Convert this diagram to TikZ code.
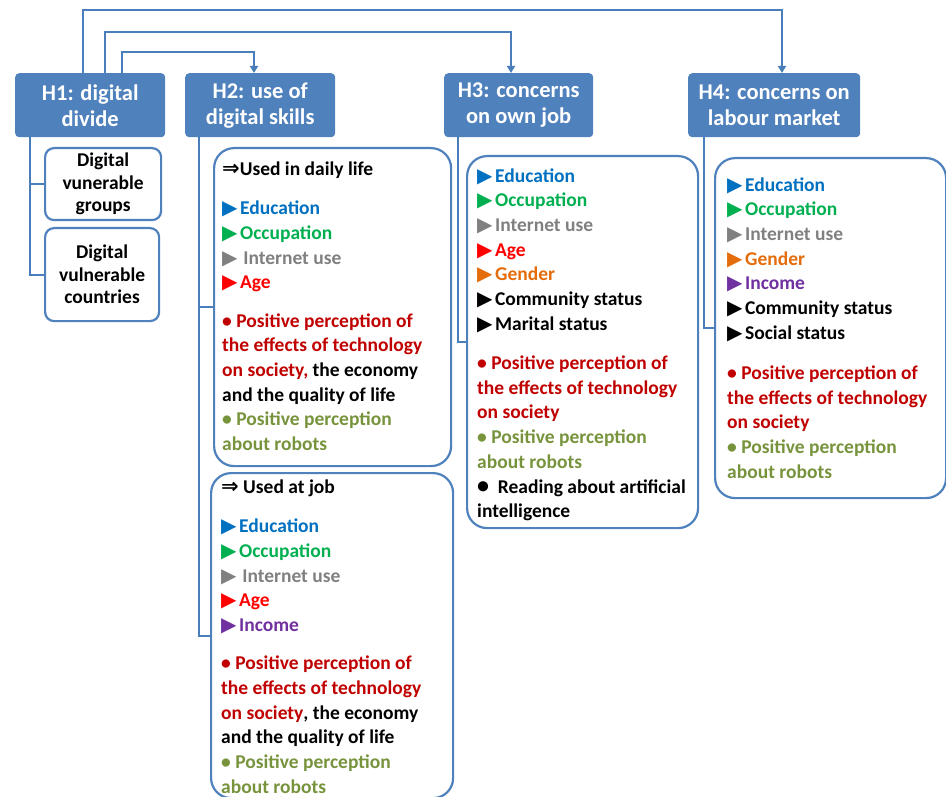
\documentclass[tikz,border=0pt]{standalone}
\usepackage{fontspec}
\setmainfont{Carlito}
\newfontfamily\symfont{DejaVu Sans}
\usetikzlibrary{arrows.meta}
\definecolor{hdrblue}{HTML}{4F81BD}
\definecolor{boxblue}{HTML}{4F81BD}
\definecolor{lineblue}{HTML}{4A7EBB}
\definecolor{edu}{HTML}{0070C0}
\definecolor{occ}{HTML}{00B050}
\definecolor{inet}{HTML}{808080}
\definecolor{age}{HTML}{FF0000}
\definecolor{gen}{HTML}{E46C0A}
\definecolor{inc}{HTML}{7030A0}
\definecolor{pos}{HTML}{C00000}
\definecolor{rob}{HTML}{77933C}
\newcommand{\tri}[2]{\textcolor{#1}{{\symfont\fontsize{20}{20}\selectfont ▶}\hspace{2.5pt}#2}}
\newcommand{\darr}{{\symfont\fontsize{21}{21}\selectfont ⇒}}
\tikzset{
  hdr/.style={fill=hdrblue, rounded corners=4pt, text=white, font=\bfseries\fontsize{22.5}{26}\selectfont, align=center, anchor=north west, inner sep=0pt},
  bigbox/.style={draw=boxblue, line width=2.2pt, rounded corners=20pt, anchor=north west, inner sep=0pt},
  smallbox/.style={draw=boxblue, line width=2.2pt, rounded corners=9pt, anchor=north west, align=center, inner sep=0pt, font=\bfseries\fontsize{19.5}{22.5}\selectfont},
  txt/.style={anchor=north west, align=left, inner sep=0pt, font=\bfseries\fontsize{19.5}{24.7}\selectfont},
  conn/.style={draw=lineblue, line width=2pt},
  arr/.style={conn, -{Triangle[width=8pt,length=7pt]}},
}
\begin{document}
\begin{tikzpicture}[x=1pt,y=-1pt]
\useasboundingbox (0,0) rectangle (946,797);
% headers
\node[hdr, minimum width=150, minimum height=64] (H1) at (15,73) {H1: digital\\divide};
\node[hdr, minimum width=150, minimum height=64] (H2) at (185,73) {H2: use of\\digital skills};
\node[hdr, minimum width=149, minimum height=64] (H3) at (444,73) {H3: concerns\\on own job};
\node[hdr, minimum width=172, minimum height=64] (H4) at (688,73) {H4: concerns on\\labour market};
% boxes
\node[smallbox, minimum width=116, minimum height=72] (g1) at (44,147) {Digital\\vunerable\\groups};
\node[smallbox, minimum width=114, minimum height=93] (g2) at (44,227) {Digital\\vulnerable\\countries};
\node[bigbox, minimum width=237, minimum height=318] (daily) at (213,147) {};
\node[bigbox, minimum width=242, minimum height=325] (job) at (210,472) {};
\node[bigbox, minimum width=231, minimum height=372] (b3) at (466,155) {};
\node[bigbox, minimum width=231, minimum height=340] (b4) at (714,157) {};
% top connectors
\coordinate (u1) at (83,10); \coordinate (v1) at (782,10);
\coordinate (u2) at (105,32); \coordinate (v2) at (511,32);
\coordinate (u3) at (122,52); \coordinate (v3) at (254,52);
\draw[arr] (H1.north -| u1) -- (u1) -- (v1) -- (H4.north -| v1);
\draw[arr] (H1.north -| u2) -- (u2) -- (v2) -- (H3.north -| v2);
\draw[arr] (H1.north -| u3) -- (u3) -- (v3) -- (H2.north -| v3);
% brackets
\coordinate (k1) at (30,0); \coordinate (k2) at (199,0);
\coordinate (k3) at (458,0); \coordinate (k4) at (704,0);
\draw[conn] (H1.south -| k1) |- (g2.west);
\draw[conn] (k1 |- g1.west) -- (g1.west);
\draw[conn] (H2.south -| k2) |- (job.west);
\draw[conn] (k2 |- daily.west) -- (daily.west);
\draw[conn] (H3.south -| k3) |- (b3.west);
\draw[conn] (H4.south -| k4) |- (b4.west);
% texts
\node[txt] (tdaily) at (222,157.7) {\strut\darr Used in daily life\\[15pt]
\tri{edu}{Education}\\
\tri{occ}{Occupation}\\
\tri{inet}{\,Internet use}\\
\tri{age}{Age}\\[13.5pt]
\textcolor{pos}{• Positive perception of}\\
\textcolor{pos}{the effects of technology}\\
\textcolor{pos}{on society,} the economy\\
and the quality of life\\
\textcolor{rob}{• Positive perception}\\
\textcolor{rob}{about robots}};
\node[txt] (tjob) at (221,475.7) {\strut\darr\ Used at job\\[15pt]
\tri{edu}{Education}\\
\tri{occ}{Occupation}\\
\tri{inet}{\,Internet use}\\
\tri{age}{Age}\\
\tri{inc}{Income}\\[13.5pt]
\textcolor{pos}{• Positive perception of}\\
\textcolor{pos}{the effects of technology}\\
\textcolor{pos}{on society}, the economy\\
and the quality of life\\
\textcolor{rob}{• Positive perception}\\
\textcolor{rob}{about robots}};
\node[txt] (tb3) at (477,164.7) {\strut\tri{edu}{Education}\\
\tri{occ}{Occupation}\\
\tri{inet}{Internet use}\\
\tri{age}{Age}\\
\tri{gen}{Gender}\\
\tri{black}{Community status}\\
\tri{black}{Marital status}\\[14.5pt]
\textcolor{pos}{• Positive perception of}\\
\textcolor{pos}{the effects of technology}\\
\textcolor{pos}{on society}\\
\textcolor{rob}{• Positive perception}\\
\textcolor{rob}{about robots}\\
{\fontsize{24}{24}\selectfont •}\ \ Reading about artificial\\
intelligence};
\node[txt] (tb4) at (727,173.7) {\strut\tri{edu}{Education}\\
\tri{occ}{Occupation}\\
\tri{inet}{Internet use}\\
\tri{gen}{Gender}\\
\tri{inc}{Income}\\
\tri{black}{Community status}\\
\tri{black}{Social status}\\[15.5pt]
\textcolor{pos}{• Positive perception of}\\
\textcolor{pos}{the effects of technology}\\
\textcolor{pos}{on society}\\
\textcolor{rob}{• Positive perception}\\
\textcolor{rob}{about robots}};
\end{tikzpicture}
\end{document}
